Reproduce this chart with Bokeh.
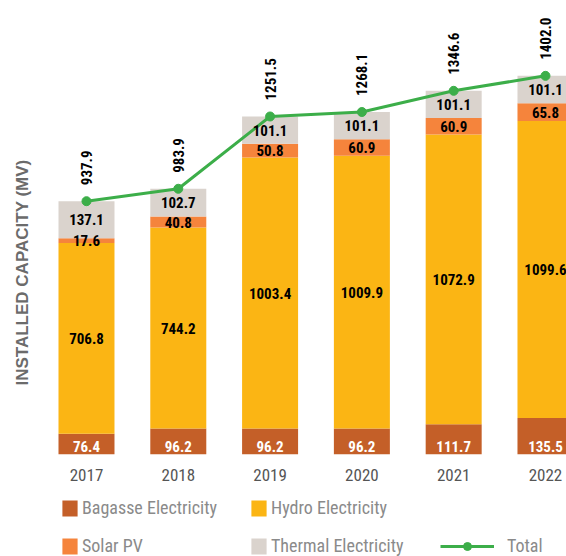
from bokeh.plotting import figure
from bokeh.layouts import column
from bokeh.models import Range1d, FixedTicker, Legend, LegendItem, ColumnDataSource, Title
from bokeh.core.properties import value
from bokeh.embed import file_html
from bokeh.resources import INLINE
import numpy as np

years = [2017, 2018, 2019, 2020, 2021, 2022]
bagasse = [76.4, 96.2, 96.2, 96.2, 111.7, 135.5]
hydro = [706.8, 744.2, 1003.4, 1009.9, 1072.9, 1099.6]
solar = [17.6, 40.8, 50.8, 60.9, 60.9, 65.8]
thermal = [137.1, 102.7, 101.1, 101.1, 101.1, 101.1]
total = [937.9, 983.9, 1251.5, 1268.1, 1346.6, 1402.0]

series_names = ["Bagasse Electricity", "Hydro Electricity", "Solar PV", "Thermal Electricity"]
colors = ["#c45f28", "#fbb514", "#f5843c", "#dad3cd"]
green = "#3cae49"
FONT = "Roboto Condensed"

b = np.array(bagasse); h = np.array(hydro); s = np.array(solar); t = np.array(thermal)
src = ColumnDataSource(dict(
    year=years, bagasse=bagasse, hydro=hydro, solar=solar, thermal=thermal, total=total,
    hydro_mid=b + h / 2, solar_mid=b + h + s / 2, thermal_mid=b + h + s + t / 2,
    zero=[0] * len(years),
    b_lbl=["%.1f" % v for v in bagasse], h_lbl=["%.1f" % v for v in hydro],
    s_lbl=["%.1f" % v for v in solar], t_lbl=["%.1f" % v for v in thermal],
    tot_lbl=["%.1f" % v for v in total],
))

p = figure(width=566, height=496, output_backend="svg", toolbar_location=None,
           x_range=Range1d(2016.499, 2022.229), y_range=Range1d(0, 1681),
           y_axis_location=None, min_border_top=0, min_border_right=0,
           min_border_left=40, min_border_bottom=42)
p.title_location = None
p.outline_line_color = None
p.xgrid.visible = False
p.ygrid.visible = False

renderers = p.vbar_stack(["bagasse", "hydro", "solar", "thermal"], x="year", width=0.61,
                         source=src, color=colors, line_color=None)

p.line("year", "total", source=src, line_width=3, color=green)
p.scatter("year", "total", source=src, size=9, color=green)

common = dict(source=src, text_align="center", text_font=value(FONT), text_font_style="bold",
              text_font_size="15px")
p.text(x="year", y="zero", text="b_lbl", text_color="white", text_baseline="bottom",
       y_offset=-3, **common)
p.text(x="year", y="hydro_mid", text="h_lbl", text_color="black", text_baseline="middle", **common)
p.text(x="year", y="solar_mid", text="s_lbl", text_color="black", text_baseline="middle", **common)
p.text(x="year", y="thermal_mid", text="t_lbl", text_color="black", text_baseline="middle", **common)
p.text(x="year", y="total", text="tot_lbl", source=src, text_align="left", text_baseline="middle",
       angle=np.pi / 2, y_offset=-16, text_font=value(FONT), text_font_style="bold",
       text_font_size="15px", text_color="black")

ax = p.xaxis[0]
ax.ticker = FixedTicker(ticks=years)
ax.axis_line_color = None
ax.major_tick_line_color = None
ax.minor_tick_line_color = None
ax.major_tick_out = 0
ax.major_tick_in = 0
ax.major_label_standoff = 14
ax.major_label_text_font = FONT
ax.major_label_text_font_size = "17px"
ax.major_label_text_color = "#555555"

ytitle = Title(text="INSTALLED CAPACITY (MV)", align="left", offset=69, standoff=17,
               text_font="Liberation Sans", text_font_size="17px", text_font_style="bold",
               text_color="#6b6b6b")
p.add_layout(ytitle, "left")

# legend strip below the chart (legend glyph renderers use the data but lie outside this strip's ranges)
lf = figure(width=566, height=60, output_backend="svg", toolbar_location=None,
            x_range=Range1d(0, 526), y_range=Range1d(0, 60),
            x_axis_location=None, y_axis_location=None,
            min_border_top=0, min_border_bottom=0, min_border_left=40, min_border_right=0)
lf.title_location = None
lf.outline_line_color = None
lf.xgrid.visible = False
lf.ygrid.visible = False
lg_r = [lf.vbar(x=years, top=vals, width=0.61, color=c, line_color=None)
        for vals, c in zip([bagasse, hydro, solar, thermal], colors)]
lg_line = lf.line(x=years, y=total, line_width=3, color=green)
lg_dot = lf.scatter(x=years, y=total, size=9, color=green)

def make_legend(items, x, y, glyph_w=19, standoff=3):
    lg = Legend(items=items, location=(x, y), orientation="vertical",
                glyph_width=glyph_w, glyph_height=20, label_height=20, label_standoff=standoff,
                spacing=17, padding=0, margin=0, border_line_color=None,
                background_fill_alpha=0, label_text_font=FONT, label_text_font_size="18px",
                label_text_color="#8a8a8a")
    lf.add_layout(lg, "center")
    return lg

make_legend([LegendItem(label=series_names[0], renderers=[lg_r[0]]),
             LegendItem(label=series_names[2], renderers=[lg_r[2]])], 20, 0)
make_legend([LegendItem(label=series_names[1], renderers=[lg_r[1]]),
             LegendItem(label=series_names[3], renderers=[lg_r[3]])], 209, 0)
make_legend([LegendItem(label="Total", renderers=[lg_line, lg_dot])], 400, 0, glyph_w=54,
            standoff=13)

layout = column(p, lf, spacing=0)
open("out.html", "w").write(file_html(layout, INLINE))
